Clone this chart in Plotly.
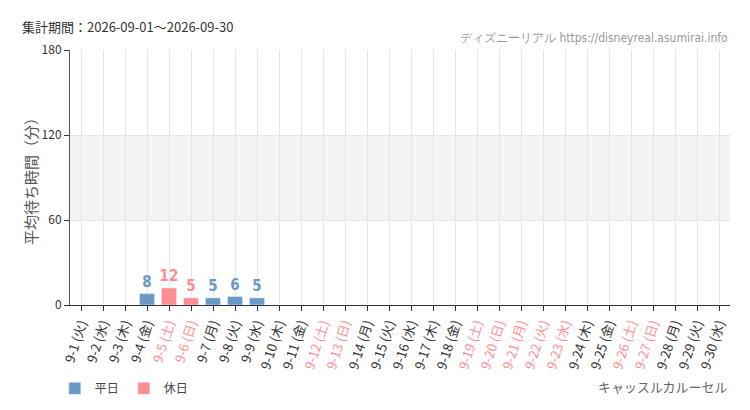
import plotly.graph_objects as go

# datos del periodo
dias = [f"9-{d}" for d in range(1, 31)]
semana = ["火", "水", "木", "金", "土", "日", "月"] * 5
semana = semana[:30]
festivos = ["9-5", "9-6", "9-12", "9-13", "9-19", "9-20", "9-21", "9-22", "9-23", "9-26", "9-27"]
espera = [None, None, None, 8, 12, 5, 5, 6, 5] + [None] * 21

color_habil = "#6b99c7"
color_festivo = "#ff8e93"

y_habil = [v if d not in festivos else None for d, v in zip(dias, espera)]
y_festivo = [v if d in festivos else None for d, v in zip(dias, espera)]

etiquetas = []
for d, s in zip(dias, semana):
    txt = f"{d} ({s})"
    if d in festivos:
        txt = f'<span style="color:{color_festivo}">{txt}</span>'
    etiquetas.append(txt)

fuente_num = "Liberation Sans Narrow, DejaVu Sans Condensed, sans-serif"

fig = go.Figure()
fig.add_trace(go.Bar(x=dias, y=y_habil, name="平日", marker_color=color_habil, width=0.68,
                     text=[str(v) if v is not None else "" for v in y_habil], textposition="outside",
                     textfont=dict(color=color_habil, size=15, family=fuente_num, weight="bold"),
                     constraintext="none", cliponaxis=False))
fig.add_trace(go.Bar(x=dias, y=y_festivo, name="休日", marker_color=color_festivo, width=0.68,
                     text=[str(v) if v is not None else "" for v in y_festivo], textposition="outside",
                     textfont=dict(color=color_festivo, size=15, family=fuente_num, weight="bold"),
                     constraintext="none", cliponaxis=False))

fig.add_shape(type="rect", xref="paper", yref="y", x0=0, x1=1, y0=60, y1=120,
              fillcolor="#f4f4f4", line_width=0, layer="below")

# la pagina tiene 8px de margen en el body
fig.update_layout(
    width=750, height=410, barmode="overlay",
    margin=dict(l=62, r=28, t=42, b=113),
    plot_bgcolor="white", paper_bgcolor="white",
    font=dict(family="Noto Sans CJK JP, sans-serif", color="#333"),
    showlegend=True,
    legend=dict(orientation="h", x=-0.023, y=-0.27, xanchor="left", yanchor="top",
                font=dict(size=12, color="#444"), traceorder="normal"),
    xaxis=dict(tickmode="array", tickvals=dias, ticktext=etiquetas, tickangle=-72,
               range=[-0.5, 29.5], showgrid=True, gridcolor="#e6e6e6", automargin=False,
               showline=True, linecolor="#333", ticks="outside", ticklen=5, tickcolor="#333",
               tickfont=dict(size=13, color="#333")),
    yaxis=dict(range=[0, 180], tickvals=[0, 60, 120, 180], showgrid=True, gridcolor="#e6e6e6",
               showline=True, linecolor="#555", ticks="outside", ticklen=5, tickcolor="#333",
               tickfont=dict(size=12, color="#333"), zeroline=False, automargin=False,
               title=dict(text="平均待ち時間（分）", font=dict(size=15, color="#555"), standoff=0)),
    annotations=[
        dict(text="集計期間：2026-09-01～2026-09-30", xref="paper", yref="paper", x=-0.076, y=1.094,
             xanchor="left", yanchor="middle", showarrow=False, font=dict(size=13, color="#333")),
        dict(text="ディズニーリアル https://disneyreal.asumirai.info", xref="paper", yref="paper",
             x=1, y=1.01, xanchor="right", yanchor="bottom", showarrow=False,
             font=dict(size=12, color="#999", family=fuente_num)),
        dict(text="キャッスルカルーセル", xref="paper", yref="paper", x=1, y=-0.275,
             xanchor="right", yanchor="top", showarrow=False, font=dict(size=13, color="#666")),
    ],
)

fig.write_html("out.html")
